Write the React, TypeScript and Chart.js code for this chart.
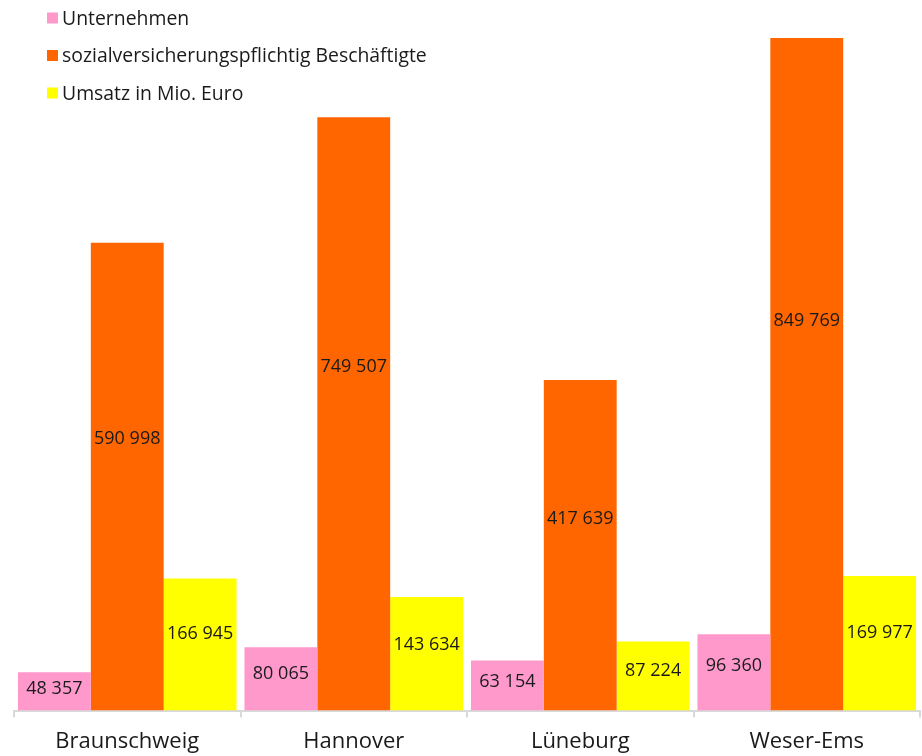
import React, { useEffect, useRef } from "react";
import { Chart, registerables } from "chart.js";

Chart.register(...registerables);

const categories = ["Braunschweig", "Hannover", "Lüneburg", "Weser-Ems"];
const seriesNames = ["Unternehmen", "sozialversicherungspflichtig Beschäftigte", "Umsatz in Mio. Euro"];
const unternehmen = [48357, 80065, 63154, 96360];
const beschaeftigte = [590998, 749507, 417639, 849769];
const umsatz = [166945, 143634, 87224, 169977];
const colors = ["#FF99CC", "#FF6600", "#FFFF00"];

const FONT = "'Open Sans', 'Noto Sans', sans-serif";

function fmt(v: number): string {
  return String(v).replace(/\B(?=(\d{3})+(?!\d))/g, " ");
}

const labelPlugin = {
  id: "barLabels",
  afterDatasetsDraw(chart: any) {
    const ctx = chart.ctx;
    ctx.save();
    ctx.font = `18px ${FONT}`;
    ctx.fillStyle = "#1a1a1a";
    ctx.textAlign = "center";
    ctx.textBaseline = "middle";
    chart.data.datasets.forEach((ds: any, di: number) => {
      const meta = chart.getDatasetMeta(di);
      meta.data.forEach((bar: any, i: number) => {
        const y = bar.base - (bar.base - bar.y) * 0.58;
        ctx.fillText(fmt(ds.data[i]), bar.x, y);
      });
    });
    ctx.restore();
  },
};

const legendPlugin = {
  id: "customLegend",
  afterDraw(chart: any) {
    const ctx = chart.ctx;
    ctx.save();
    ctx.font = `19.4px ${FONT}`;
    ctx.textBaseline = "middle";
    ctx.textAlign = "left";
    chart.data.datasets.forEach((ds: any, i: number) => {
      const cy = 18 + i * 37.5;
      ctx.fillStyle = ds.backgroundColor;
      ctx.fillRect(47, cy - 5.5, 11, 11);
      ctx.fillStyle = "#1a1a1a";
      ctx.fillText(ds.label, 62, cy + 1);
    });
    ctx.restore();
  },
};

export default function App() {
  const ref = useRef<HTMLCanvasElement | null>(null);
  useEffect(() => {
    if (!ref.current) return;
    const chart = new Chart(ref.current, {
      type: "bar",
      data: {
        labels: categories,
        datasets: [
          { label: seriesNames[0], data: unternehmen, backgroundColor: colors[0] },
          { label: seriesNames[1], data: beschaeftigte, backgroundColor: colors[1] },
          { label: seriesNames[2], data: umsatz, backgroundColor: colors[2] },
        ],
      },
      options: {
        animation: false,
        responsive: false,
        maintainAspectRatio: false,
        layout: { padding: { left: 14, right: 2, top: 38, bottom: 0 } },
        datasets: {
          bar: { categoryPercentage: 0.965, barPercentage: 1.0 },
        },
        plugins: {
          legend: { display: false },
          tooltip: { enabled: false },
        },
        scales: {
          x: {
            grid: {
              display: true,
              offset: true,
              drawOnChartArea: false,
              drawTicks: true,
              tickLength: 7,
              color: "#d9d9d9",
              lineWidth: 2,
            },
            border: { display: true, color: "#d9d9d9", width: 2 },
            ticks: {
              color: "#1a1a1a",
              font: { family: FONT, size: 22 },
              padding: 11,
            },
          },
          y: {
            display: false,
            min: 0,
            max: 849769,
          },
        },
      },
      plugins: [labelPlugin, legendPlugin],
    });
    return () => chart.destroy();
  }, []);
  return (
    <div style={{ position: "fixed", left: 0, top: 0, width: 922, height: 756, overflow: "hidden", background: "#fff" }}>
      <canvas ref={ref} width={922} height={766} style={{ display: "block" }} />
    </div>
  );
}
